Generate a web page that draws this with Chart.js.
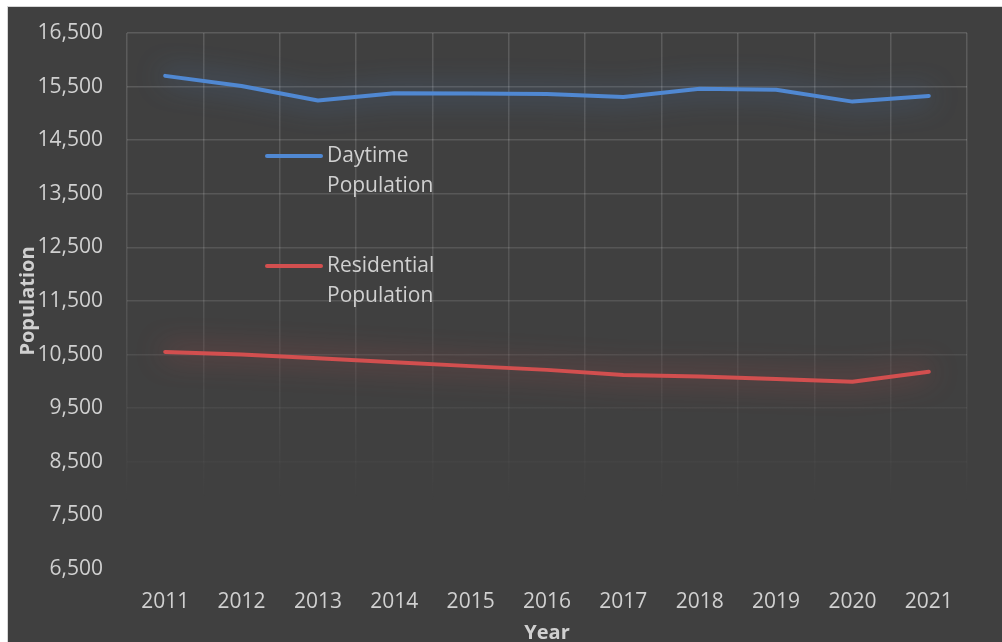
<!DOCTYPE html>
<html>
<head>
<meta charset="utf-8">
<title>Daytime and Residential Population</title>
<script src="https://cdn.jsdelivr.net/npm/chart.js@4.4.1/dist/chart.umd.min.js"></script>
<style>
  html, body { margin: 0; padding: 0; background: #ffffff; }
  #frame {
    position: absolute;
    left: 7px;
    top: 6px;
    width: 994px;
    height: 635px;
    background: #404040;
    border-left: 1px solid #d6d6d6;
    border-top: 1px solid #d6d6d6;
  }
  canvas { display: block; }
</style>
</head>
<body>
<div id="frame"><canvas id="population-chart" width="994" height="635"></canvas></div>
<script>
const years = ['2011', '2012', '2013', '2014', '2015', '2016', '2017', '2018', '2019', '2020', '2021'];
const daytimePopulation = [15700, 15510, 15240, 15375, 15370, 15360, 15305, 15460, 15440, 15220, 15325];
const residentialPopulation = [10550, 10500, 10430, 10355, 10285, 10215, 10120, 10090, 10045, 9995, 10180];
const yTicks = [6500, 7500, 8500, 9500, 10500, 11500, 12500, 13500, 14500, 15500, 16500];

const textColor = '#d0d0d0';
const fontFamily = '"Open Sans", "Noto Sans", sans-serif';

Chart.defaults.font.family = fontFamily;
Chart.defaults.color = textColor;

// grid lines fade out towards the bottom of the plot
let gridGradient = null;
let gridGradientKey = '';
const gridColor = (context) => {
  const chart = context.chart;
  const area = chart.chartArea;
  if (!area) return 'rgba(255,255,255,0.12)';
  const key = area.top + ':' + area.bottom;
  if (!gridGradient || gridGradientKey !== key) {
    const g = chart.ctx.createLinearGradient(0, area.top, 0, area.bottom);
    g.addColorStop(0, 'rgba(255,255,255,0.15)');
    g.addColorStop(0.5, 'rgba(255,255,255,0.11)');
    g.addColorStop(0.7, 'rgba(255,255,255,0.05)');
    g.addColorStop(0.88, 'rgba(255,255,255,0)');
    g.addColorStop(1, 'rgba(255,255,255,0)');
    gridGradient = g;
    gridGradientKey = key;
  }
  return gridGradient;
};

// soft glow under each line
const lineGlow = {
  id: 'lineGlow',
  beforeDatasetDraw(chart, args) {
    const ds = chart.data.datasets[args.index];
    const ctx = chart.ctx;
    ctx.save();
    ctx.shadowColor = ds.glowColor;
    ctx.shadowBlur = 28;
  },
  afterDatasetDraw(chart) {
    chart.ctx.restore();
  }
};

// legend drawn inside the plot, labels wrapped onto two lines
const insideLegend = {
  id: 'insideLegend',
  afterDatasetsDraw(chart, args, opts) {
    const ctx = chart.ctx;
    ctx.save();
    ctx.font = opts.fontSize + 'px ' + fontFamily;
    ctx.fillStyle = textColor;
    ctx.textBaseline = 'middle';
    ctx.textAlign = 'left';
    chart.data.datasets.forEach((ds, i) => {
      const y = opts.y + i * opts.rowGap;
      ctx.strokeStyle = ds.borderColor;
      ctx.lineWidth = 4;
      ctx.lineCap = 'round';
      ctx.beginPath();
      ctx.moveTo(opts.x, y);
      ctx.lineTo(opts.x + opts.lineLength, y);
      ctx.stroke();
      ds.label.split(' ').forEach((word, j) => {
        ctx.fillText(word, opts.x + opts.lineLength + 6, y + j * opts.lineHeight);
      });
    });
    ctx.restore();
  }
};

const ctx = document.getElementById('population-chart').getContext('2d');
const populationChart = new Chart(ctx, {
  type: 'line',
  data: {
    labels: years,
    datasets: [
      {
        label: 'Daytime Population',
        data: daytimePopulation,
        borderColor: '#5088d2',
        glowColor: 'rgba(79,134,207,0.85)',
        borderWidth: 4,
        borderCapStyle: 'round',
        borderJoinStyle: 'round',
        pointRadius: 0,
        tension: 0
      },
      {
        label: 'Residential Population',
        data: residentialPopulation,
        borderColor: '#d24f4f',
        glowColor: 'rgba(208,79,79,0.85)',
        borderWidth: 4,
        borderCapStyle: 'round',
        borderJoinStyle: 'round',
        pointRadius: 0,
        tension: 0
      }
    ]
  },
  options: {
    responsive: false,
    animation: false,
    layout: {
      padding: { top: 26, right: 35, left: 0, bottom: 0 }
    },
    plugins: {
      legend: { display: false },
      tooltip: { enabled: false },
      insideLegend: { x: 259, y: 149, lineLength: 54, rowGap: 110, lineHeight: 30, fontSize: 21 }
    },
    scales: {
      x: {
        offset: true,
        afterFit: (scale) => { scale.height = 73; },
        grid: { offset: true, color: gridColor, lineWidth: 1.5, drawTicks: false },
        border: { display: false },
        ticks: { padding: 20, font: { size: 21 }, color: textColor, maxRotation: 0 },
        title: {
          display: true,
          text: 'Year',
          color: textColor,
          font: { size: 20, weight: 'bold', lineHeight: 1 },
          padding: { top: 0, bottom: -1 }
        }
      },
      y: {
        min: yTicks[0],
        max: yTicks[yTicks.length - 1],
        afterFit: (scale) => {
          scale.width = 119;
          scale.paddingTop = 0;
          scale.paddingBottom = 0;
        },
        afterBuildTicks: (scale) => { scale.ticks = yTicks.map(v => ({ value: v })); },
        grid: { color: gridColor, lineWidth: 1.5, drawTicks: false },
        border: { display: false },
        ticks: {
          padding: 24,
          font: { size: 21 },
          color: textColor,
          callback: (value) => Number(value).toLocaleString('en-US')
        },
        title: {
          display: true,
          text: 'Population',
          color: textColor,
          font: { size: 20, weight: 'bold', lineHeight: 1.2 },
          padding: { top: 8, bottom: 0 }
        }
      }
    }
  },
  plugins: [lineGlow, insideLegend]
});
</script>
</body>
</html>
